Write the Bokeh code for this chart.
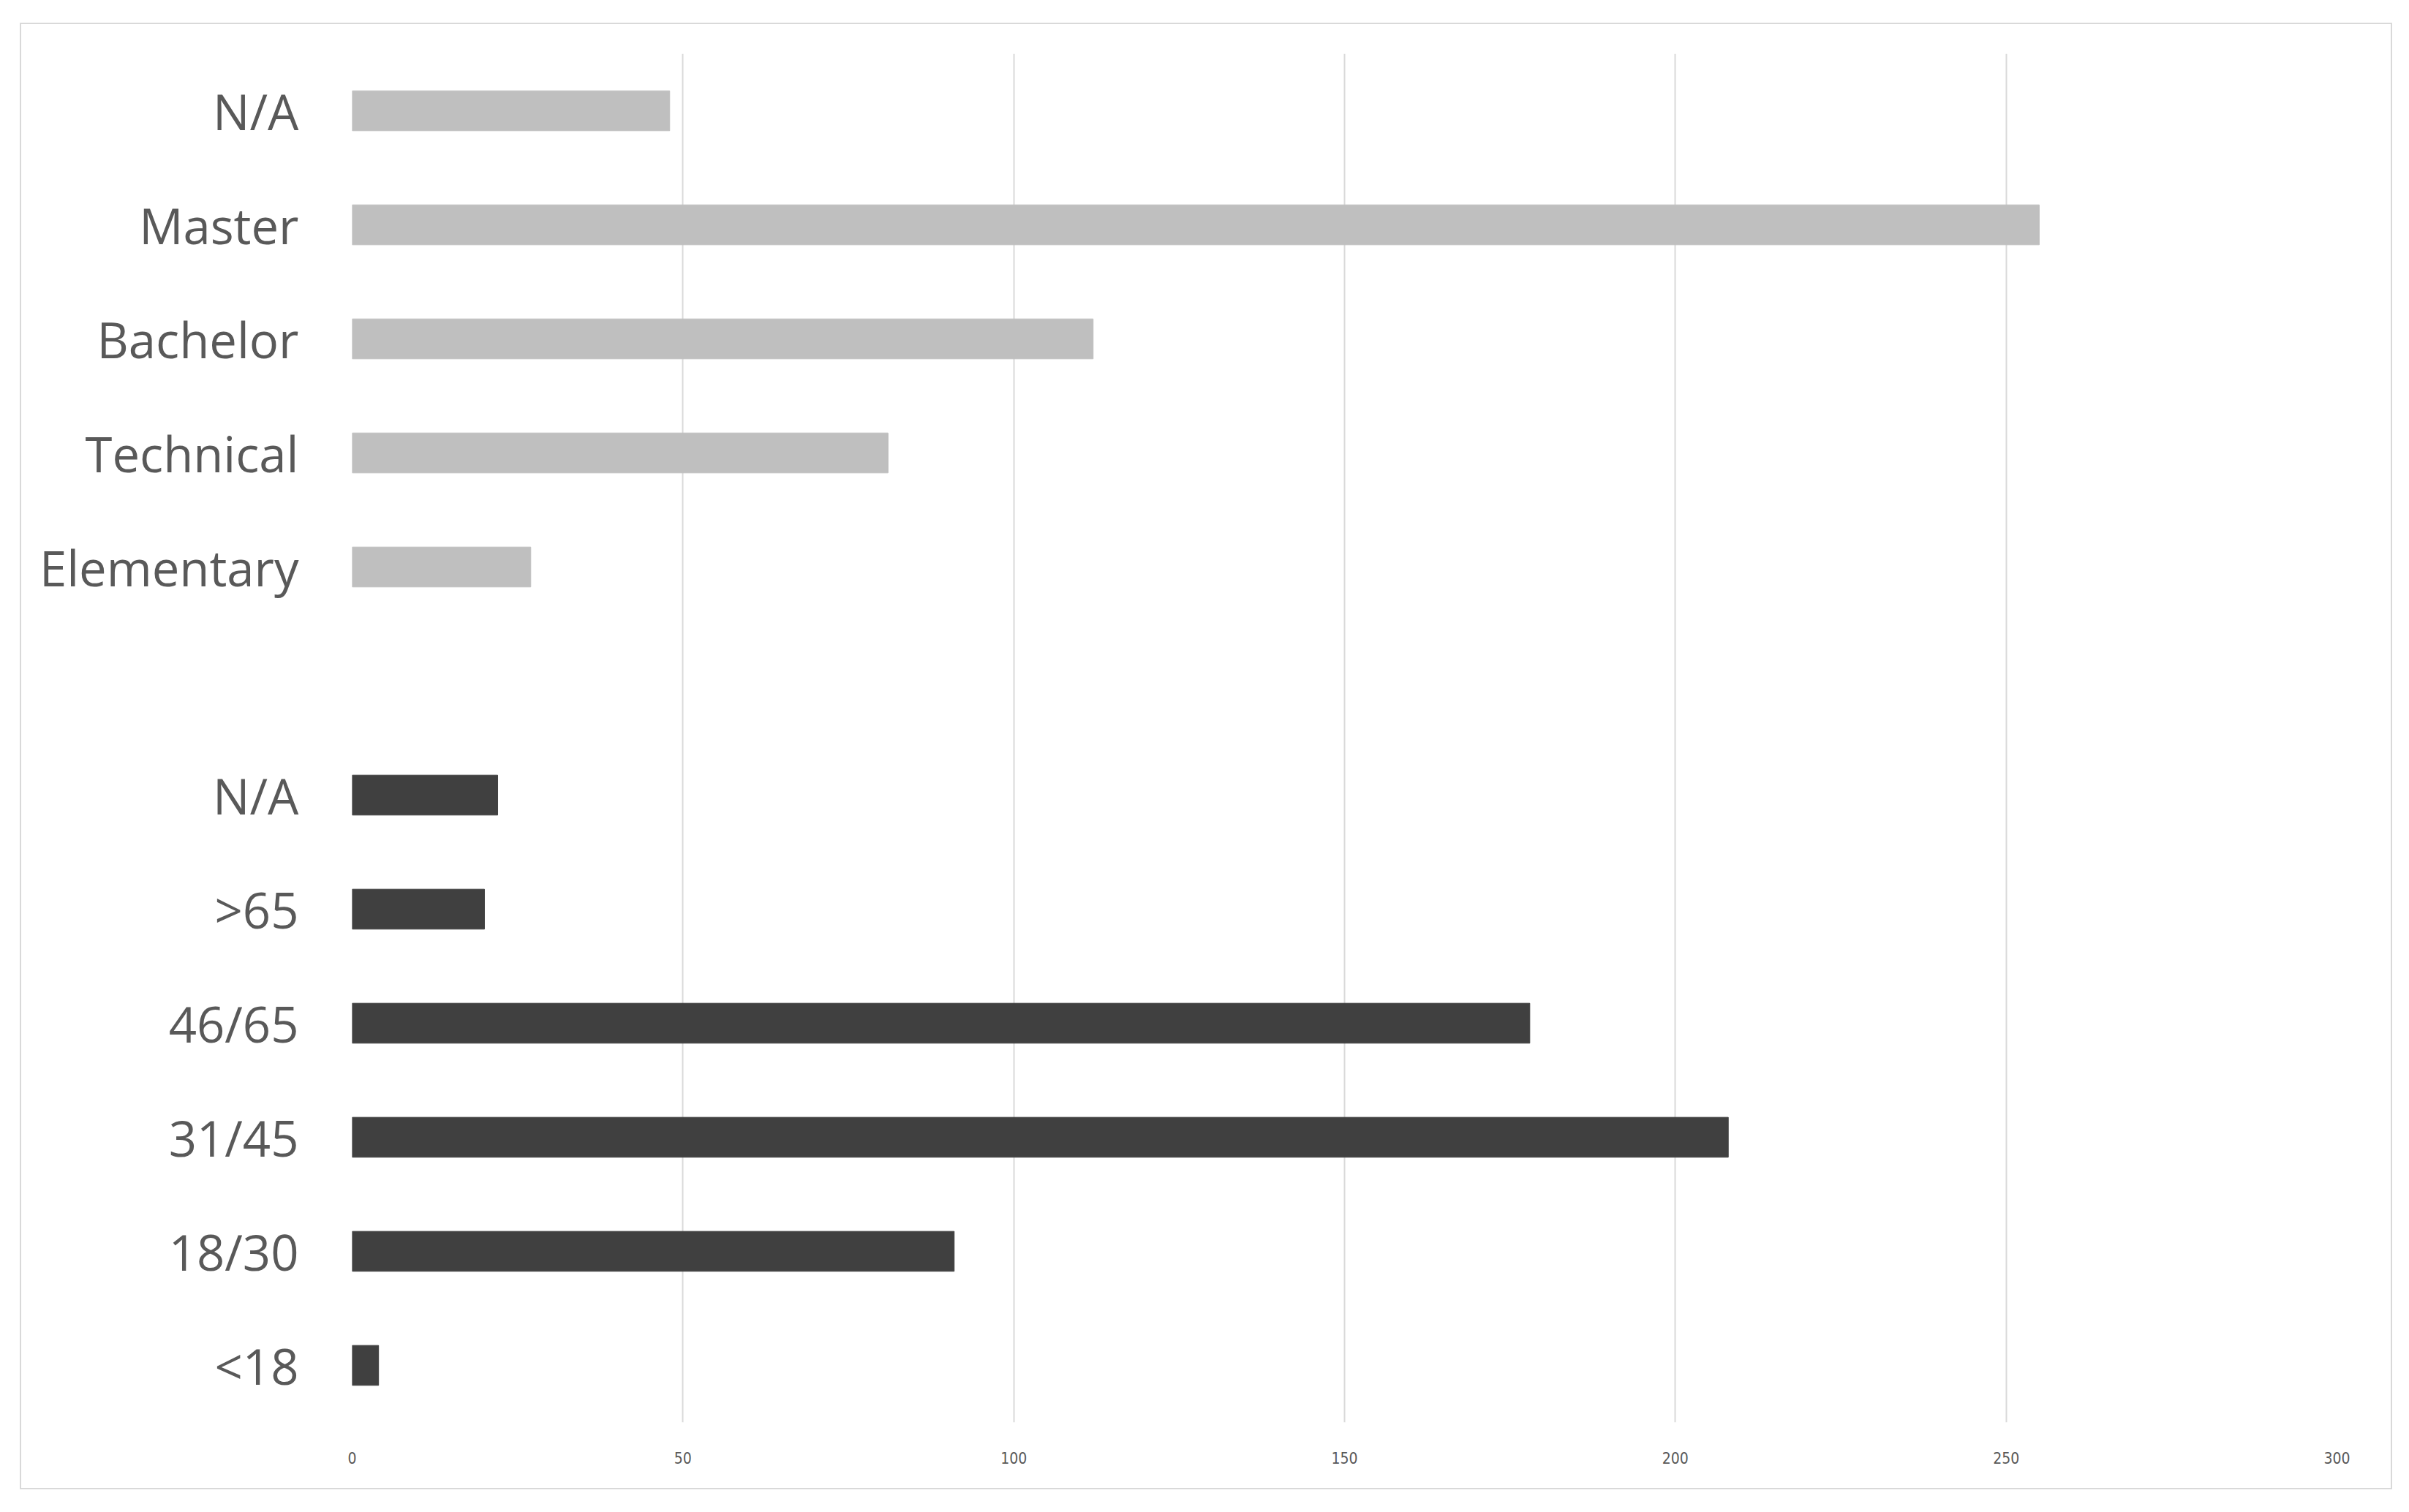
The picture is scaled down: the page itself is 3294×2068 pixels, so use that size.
from bokeh.plotting import figure
from bokeh.models import Range1d, FixedTicker
from bokeh.embed import file_html
from bokeh.resources import INLINE

# Data (bottom to top)
categories = ["<18", "18/30", "31/45", "46/65", ">65", "N/A", "",
              "Elementary", "Technical", "Bachelor", "Master", "N/A"]
age_values = [4, 91, 208, 178, 20, 22]
edu_values = [27, 81, 112, 255, 48]
x_ticks = [0, 50, 100, 150, 200, 250, 300]

age_pos = list(range(0, 6))
edu_pos = list(range(7, 12))

p = figure(width=3244, height=2006, output_backend="svg", toolbar_location=None,
           x_range=Range1d(0, 300), y_range=Range1d(-0.5, 11.5),
           min_border_left=452, min_border_right=78, min_border_top=40, min_border_bottom=94)
p.margin = (31, 0, 0, 27)
p.styles = {"border": "2px solid #d9d9d9"}
p.outline_line_color = None
p.background_fill_color = "white"

p.hbar(y=edu_pos, right=edu_values, left=0, height=0.35, color="#bfbfbf")
p.hbar(y=age_pos, right=age_values, left=0, height=0.35, color="#404040")

p.xaxis.ticker = FixedTicker(ticks=x_ticks)
p.xaxis.axis_line_color = None
p.xaxis.major_tick_line_color = None
p.xaxis.minor_tick_line_color = None
p.xaxis.major_label_text_font = "DejaVu Sans Condensed"
p.xaxis.major_label_text_font_size = "21px"
p.xaxis.major_label_text_color = "#595959"
p.xaxis.major_label_standoff = 34

p.yaxis.ticker = FixedTicker(ticks=list(range(len(categories))))
p.yaxis.major_label_overrides = {i: c for i, c in enumerate(categories)}
p.yaxis.axis_line_color = None
p.yaxis.major_tick_line_color = None
p.yaxis.minor_tick_line_color = None
p.yaxis.major_label_text_font = "Open Sans"
p.yaxis.major_label_text_font_size = "67px"
p.yaxis.major_label_text_color = "#595959"
p.yaxis.major_label_standoff = 67

p.xgrid.grid_line_color = "#d9d9d9"
p.xgrid.grid_line_width = 2
p.ygrid.grid_line_color = None

open("out.html", "w").write(file_html(p, INLINE))
